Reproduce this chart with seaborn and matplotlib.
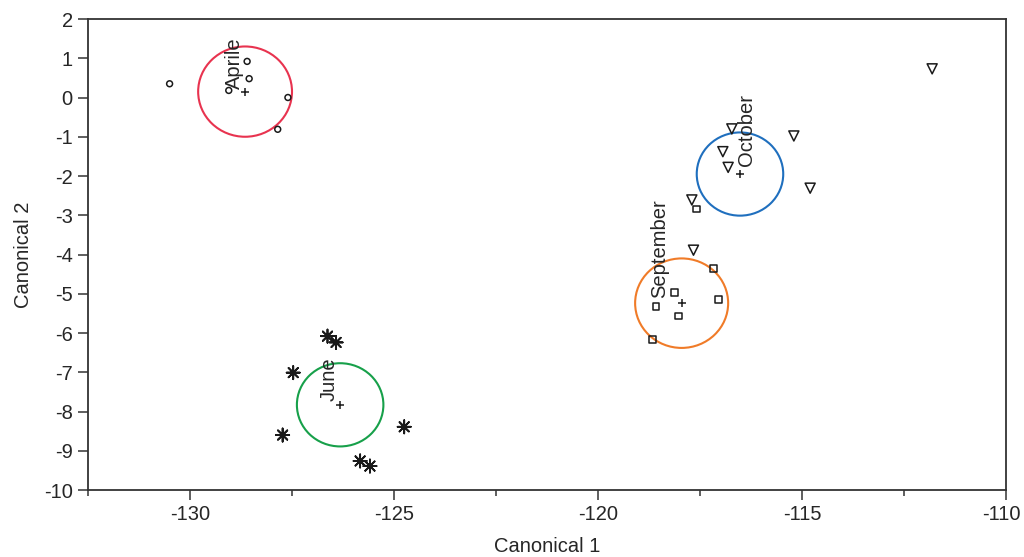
import matplotlib
matplotlib.use("Agg")
import matplotlib.pyplot as plt
import matplotlib.transforms as mtransforms
from matplotlib.patches import Ellipse
from matplotlib.ticker import MultipleLocator
import seaborn as sns
import pandas as pd

# ---- data ----
months = ["Aprile", "June", "September", "October"]

april_x = [-130.5, -129.05, -128.55, -128.6, -127.6, -127.85]
april_y = [0.35, 0.18, 0.48, 0.92, 0.0, -0.81]

june_x = [-126.63, -126.42, -127.47, -127.73, -124.75, -125.83, -125.59]
june_y = [-6.08, -6.24, -7.01, -8.60, -8.39, -9.26, -9.39]

september_x = [-117.17, -117.58, -118.58, -118.13, -118.03, -117.05, -118.66]
september_y = [-4.36, -2.84, -5.33, -4.97, -5.57, -5.14, -6.16]

october_x = [-116.72, -115.2, -116.94, -116.81, -114.8, -117.7, -111.81, -117.66]
october_y = [-0.80, -0.98, -1.38, -1.78, -2.31, -2.61, 0.73, -3.89]

centroid_x = [-128.65, -126.32, -117.95, -116.52]
centroid_y = [0.15, -7.83, -5.24, -1.95]
circle_radius = [1.15, 1.06, 1.14, 1.06]

x_ticks = [-130, -125, -120, -115, -110]
y_ticks = list(range(-10, 3))

# ---- styles ----
markers = {"Aprile": "o", "June": (8, 2, 0), "September": "s", "October": "v"}
marker_sizes = {"Aprile": 18, "June": 90, "September": 22, "October": 52}
marker_lw = {"Aprile": 1.1, "June": 1.3, "September": 1.1, "October": 1.1}
circle_colors = {"Aprile": "#e8334f", "June": "#17a04a",
                 "September": "#f07b28", "October": "#1f6fbe"}
label_offsets = {"Aprile": (-8, 2), "June": (-8, 3), "September": (-16, 4), "October": (5, 6)}
FS = 14.5

sns.set_style("ticks")
plt.rcParams["font.family"] = ["Liberation Sans", "DejaVu Sans"]
plt.rcParams["font.size"] = FS
plt.rcParams["axes.unicode_minus"] = False

txt = "#262626"
fig = plt.figure(figsize=(10.24, 5.57), dpi=100)
ax = fig.add_axes([88 / 1024, 1 - 490 / 557, (1006 - 88) / 1024, (490 - 19) / 557])

frames = []
for m, xs, ys in [("Aprile", april_x, april_y), ("June", june_x, june_y),
                  ("September", september_x, september_y), ("October", october_x, october_y)]:
    frames.append(pd.DataFrame({"x": xs, "y": ys, "month": m}))
df = pd.concat(frames, ignore_index=True)

for m in months:
    sub = df[df["month"] == m]
    n_before = len(ax.collections)
    sns.scatterplot(data=sub, x="x", y="y", marker=markers[m], s=marker_sizes[m],
                    color="k", linewidth=marker_lw[m], ax=ax, legend=False, zorder=3)
    for coll in ax.collections[n_before:]:
        coll.set_facecolor("none")
        coll.set_edgecolor("#1a1a1a")
        coll.set_linewidth(marker_lw[m])

cdf = pd.DataFrame({"x": centroid_x, "y": centroid_y, "month": months})
sns.scatterplot(data=cdf, x="x", y="y", marker="+", s=30, color="#1a1a1a",
                linewidth=1.1, ax=ax, legend=False, zorder=4)

for m, cx, cy, r in zip(months, centroid_x, centroid_y, circle_radius):
    ax.add_patch(Ellipse((cx, cy), 2 * r, 2 * r, fill=False,
                         edgecolor=circle_colors[m], linewidth=1.5, zorder=2))
    dx, dy = label_offsets[m]
    ax.annotate(m, xy=(cx, cy), xytext=(dx, dy), textcoords="offset points",
                rotation=90, ha="center", va="bottom", fontsize=FS, color=txt)

ax.set_xlim(-132.5, -110)
ax.set_ylim(-10, 2)
ax.set_xticks(x_ticks)
ax.set_yticks(y_ticks)
ax.xaxis.set_minor_locator(MultipleLocator(2.5))
ax.tick_params(axis="both", which="major", direction="out", length=7, width=1.1,
               color="#333333", labelcolor=txt, labelsize=FS, pad=4)
ax.tick_params(axis="x", which="minor", direction="out", length=4, width=1.1, color="#333333")
for s in ax.spines.values():
    s.set_visible(True)
    s.set_linewidth(1.3)
    s.set_color("#333333")

# keep the last x tick label inside the figure, as in the reference
last = ax.get_xticklabels()[-1]
last.set_transform(last.get_transform() +
                   mtransforms.ScaledTranslation(-5 / 100, 0, fig.dpi_scale_trans))

ax.set_xlabel("Canonical 1", fontsize=FS, color=txt, labelpad=9)
ax.set_ylabel("Canonical 2", fontsize=FS, color=txt, labelpad=8)

fig.savefig("out.png", dpi=100)
